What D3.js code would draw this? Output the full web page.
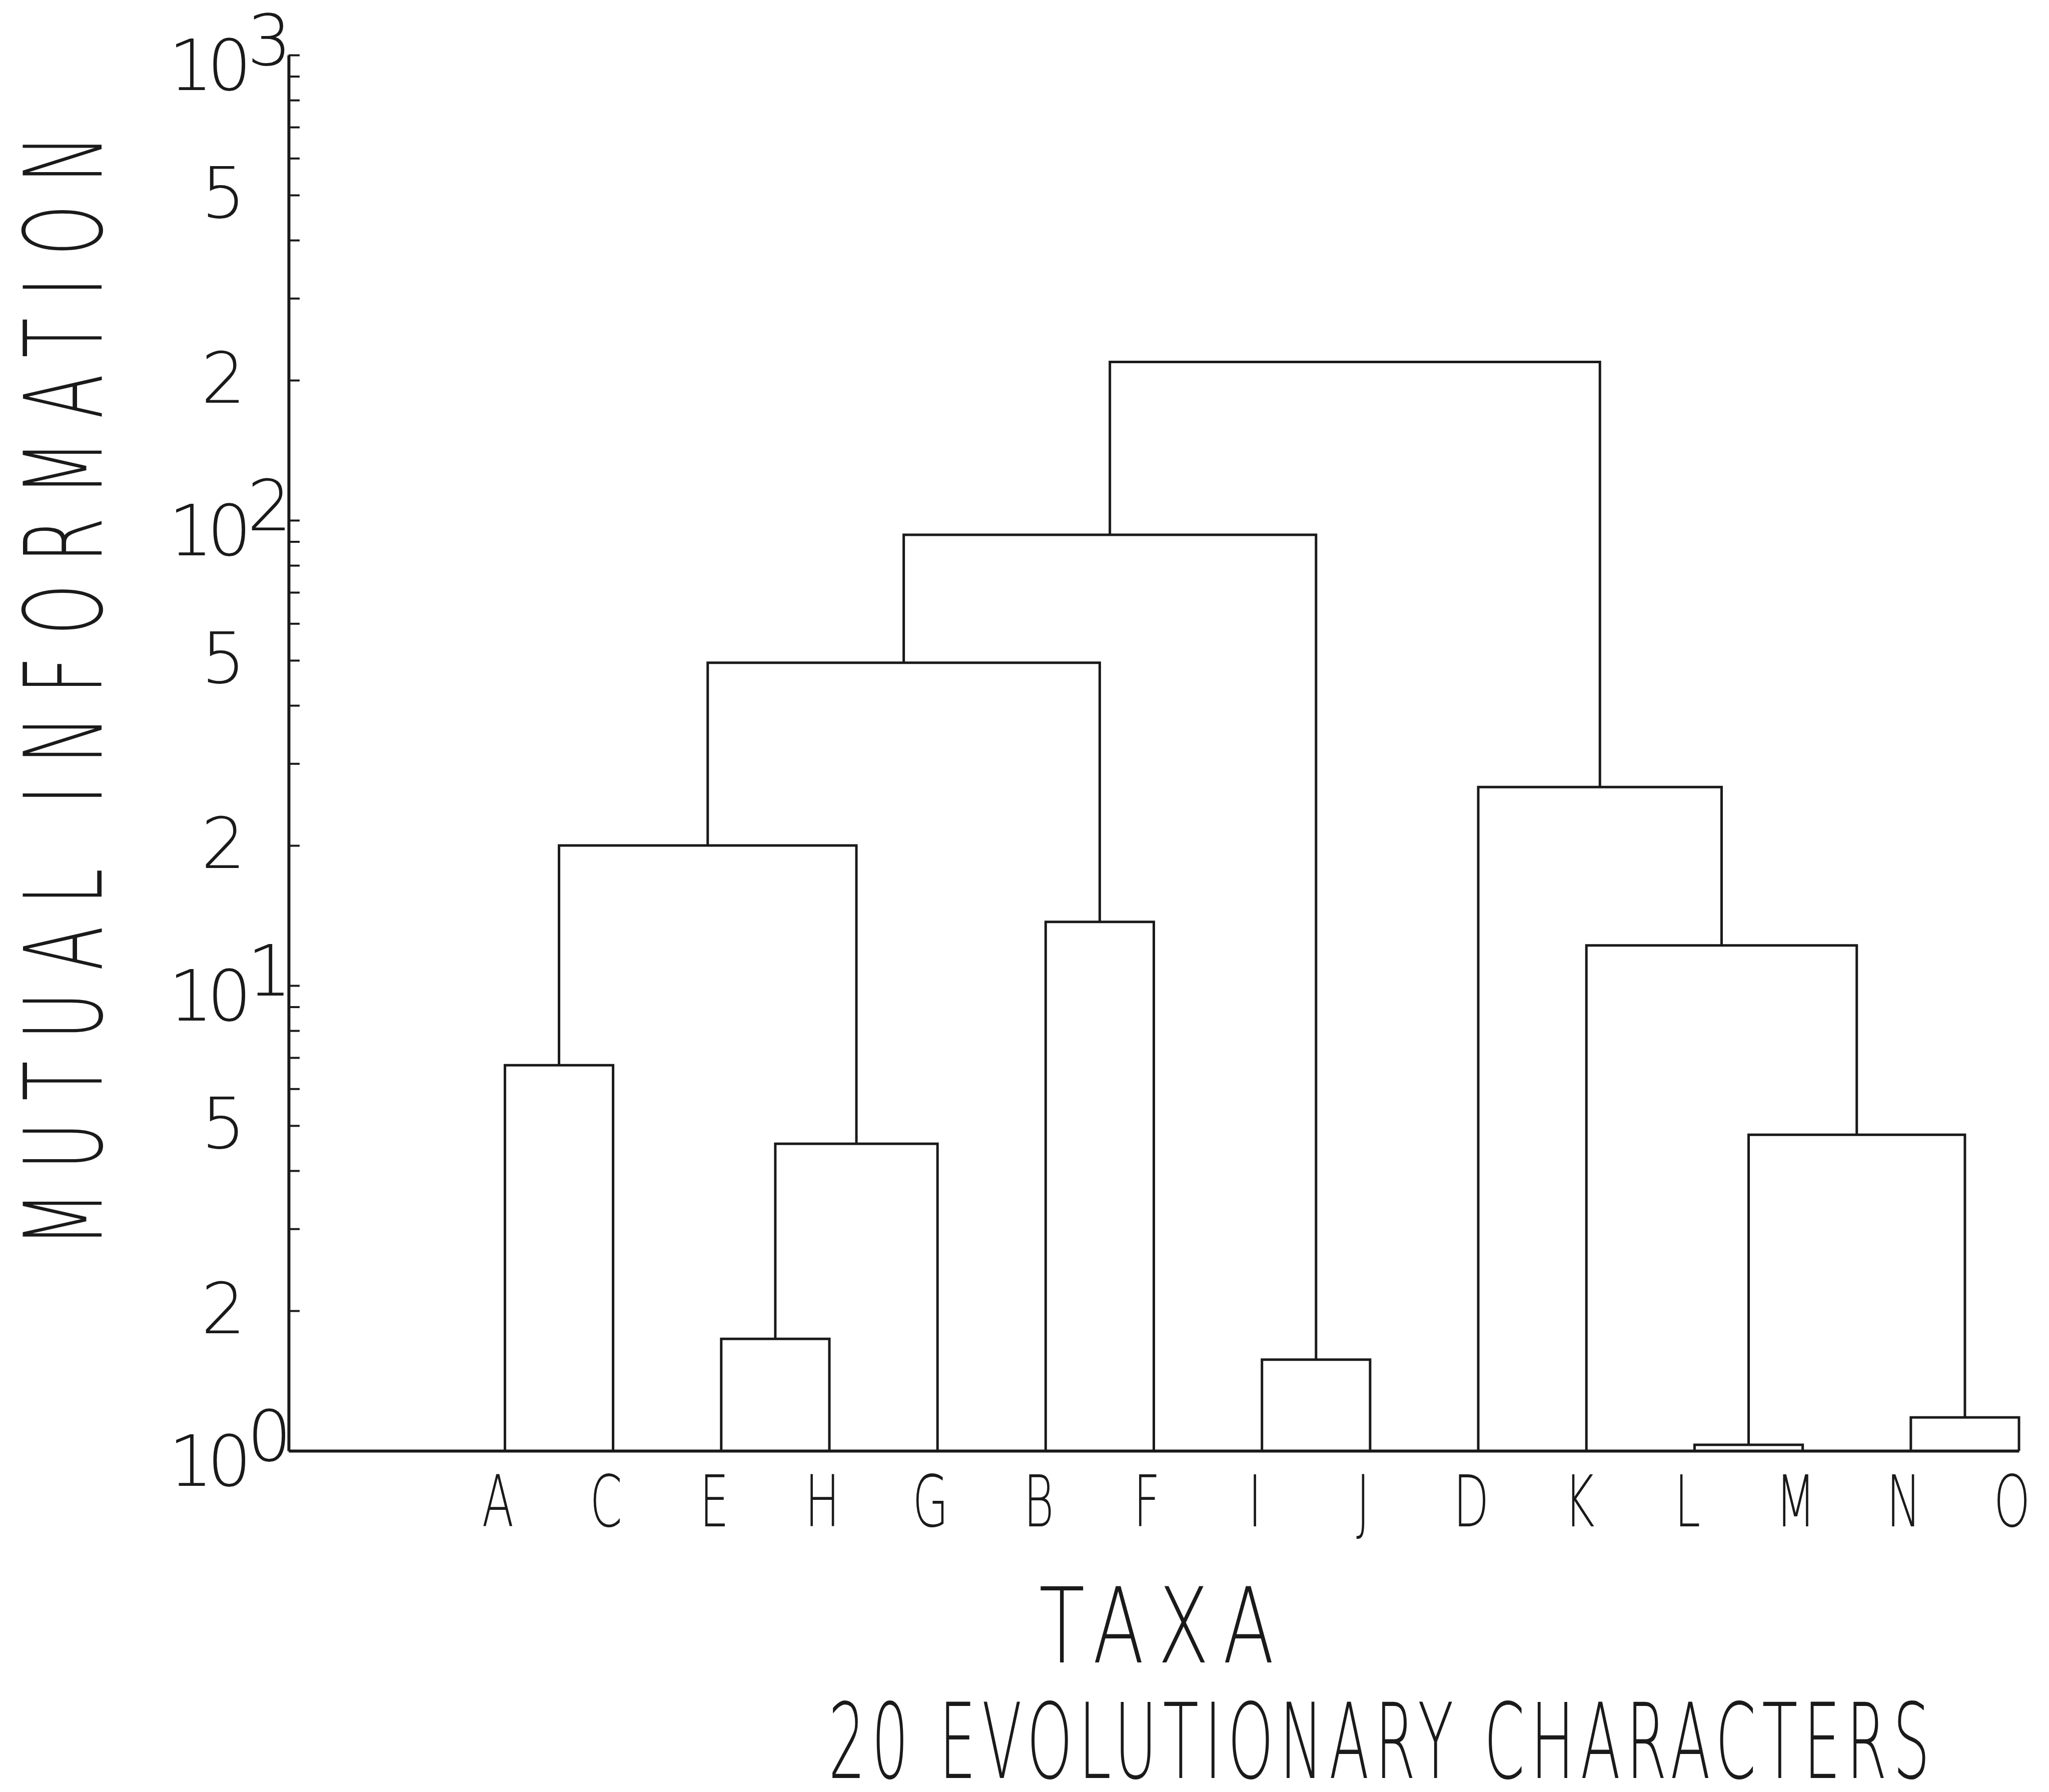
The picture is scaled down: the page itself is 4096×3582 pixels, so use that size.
<!DOCTYPE html>
<html>
<head>
<meta charset="utf-8">
<script src="https://cdn.jsdelivr.net/npm/d3@7"></script>
<style>
  body { margin: 0; background: #fff; }
  text { font-family: "DejaVu Sans", sans-serif; font-weight: 200; fill: #1a1a1a; }
</style>
</head>
<body>
<script>
// leaves in the order they sit along the bottom
let taxa = ["A", "C", "E", "H", "G", "B", "F", "I", "J", "D", "K", "L", "M", "N", "O"];

// linkage table: ids 0-14 are the taxa, id 15+i is merge i
let mergeLeft   = [0, 2, 16, 15, 5, 18, 7, 20, 11, 13, 23, 10, 9, 22];
let mergeRight  = [1, 3, 4, 17, 6, 19, 8, 21, 12, 14, 24, 25, 26, 27];
let mergeHeight = [6.74, 1.74, 4.57, 20.0, 13.7, 49.4, 1.57, 93.1, 1.03, 1.18, 4.78, 12.2, 26.7, 219];

// y ticks (log axis) and the ones that carry a label
let yTicks = [1, 2, 3, 4, 5, 6, 7, 8, 9,
              10, 20, 30, 40, 50, 60, 70, 80, 90,
              100, 200, 300, 400, 500, 600, 700, 800, 900, 1000];
let yDigitLabels = {2: "2", 5: "5", 20: "2", 50: "5", 200: "2", 500: "5"};
let yDecades = {1: "0", 10: "1", 100: "2", 1000: "3"};

let yTitle = "MUTUAL INFORMATION";
let xTitle = "TAXA";
let chartTitle = "20 EVOLUTIONARY CHARACTERS";

let width = 4096,
    height = 3582,
    ink = "#1a1a1a";

let svg = d3.select("body").append("svg")
    .attr("width", width)
    .attr("height", height);

// leaf slot 0 is the axis itself, taxa occupy slots 2..16
let x = d3.scaleLinear([0, 16], [577, 4036]);
let y = d3.scaleLog([1, 1000], [2900, 110]);

// ---- y axis, ticks pointing into the plot
let yAxis = d3.axisLeft(y)
    .tickValues(yTicks)
    .tickSizeInner(-22)
    .tickSizeOuter(0)
    .tickPadding(86)
    .tickFormat(d => yDigitLabels[d] || (yDecades[d] !== undefined ? "10" : ""));

let gy = svg.append("g")
    .attr("transform", translate(x(0), 0))
    .call(yAxis)
    .attr("font-size", 140)
    .attr("font-family", null);

gy.select(".domain").attr("stroke", ink).attr("stroke-width", 6);
gy.selectAll(".tick line").attr("stroke", ink).attr("stroke-width", 4);
gy.selectAll(".tick text").attr("fill", ink);
// minor ticks carry no label at all
gy.selectAll(".tick text").filter(function() { return this.textContent === ""; }).remove();

// decade labels: "10" sits a bit low, exponent raised at full size
let decadeTicks = gy.selectAll(".tick").filter(d => yDecades[d] !== undefined);
decadeTicks.select("text")
    .attr("y", 25)
    .attr("letter-spacing", -12);
decadeTicks.append("text")
    .attr("x", -83)
    .attr("y", -25)
    .attr("dy", "0.32em")
    .attr("text-anchor", "start")
    .attr("fill", ink)
    .text(d => yDecades[d]);

// ---- x axis: bare baseline from the y axis to the last leaf
let gx = svg.append("g")
    .attr("transform", translate(0, y(1)))
    .call(d3.axisBottom(x).tickValues([]).tickSizeOuter(0));
gx.select(".domain").attr("stroke", ink).attr("stroke-width", 6);

// ---- dendrogram
let nodes = taxa.map((t, i) => ({x: x(i + 2), h: 1}));
mergeLeft.forEach((l, i) => {
    let a = nodes[l], b = nodes[mergeRight[i]];
    nodes.push({x: (a.x + b.x) / 2, h: mergeHeight[i], left: a, right: b});
});

svg.append("g")
    .selectAll("path")
    .data(nodes.filter(n => n.left))
    .enter().append("path")
    .attr("fill", "none")
    .attr("stroke", ink)
    .attr("stroke-width", 5)
    .attr("d", n => `M${n.left.x},${y(n.left.h)}V${y(n.h)}H${n.right.x}V${y(n.right.h)}`);

// leaf labels, narrow plotter lettering
svg.append("g")
    .selectAll("text")
    .data(taxa)
    .enter().append("text")
    .attr("transform", (d, i) => translate(x(i + 2) - 14, 3051) + " scale(0.65, 1)")
    .attr("font-size", 143)
    .attr("text-anchor", "middle")
    .text(d => d);

// condensed text: glyphs squeezed by sx, spacing stretched to fill `len`
function condensed(str, cx, cy, size, sx, len, rotate) {
    return svg.append("text")
        .attr("transform", translate(cx, cy) + (rotate ? " rotate(-90)" : "") + ` scale(${sx}, 1)`)
        .attr("font-size", size)
        .attr("text-anchor", "middle")
        .attr("textLength", len / sx)
        .attr("lengthAdjust", "spacing")
        .text(str);
}

condensed(yTitle, 203, 1381, 215, 0.6, 2223, true);
condensed(xTitle, 2312, 3323, 208, 0.72, 470, false);
condensed(chartTitle, 2757, 3554, 208, 0.56, 2202, false);

function translate(x, y) {
    return `translate(${x}, ${y})`;
}
</script>
</body>
</html>
